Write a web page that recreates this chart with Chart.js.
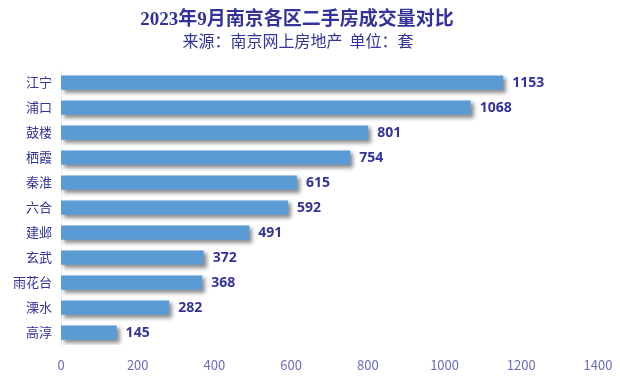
<!DOCTYPE html>
<html>
<head>
<meta charset="utf-8">
<script src="https://cdn.jsdelivr.net/npm/chart.js@4"></script>
<style>
    html, body { margin: 0; padding: 0; background: #ffffff; }
    #wrap { width: 620px; height: 391px; position: relative; }
</style>
</head>
<body>
<div id="wrap"><canvas id="districtChart" width="620" height="391"></canvas></div>
<script>
const districts = ["江宁", "浦口", "鼓楼", "栖霞", "秦淮", "六合", "建邺", "玄武", "雨花台", "溧水", "高淳"];
const deals = [1153, 1068, 801, 754, 615, 592, 491, 372, 368, 282, 145];
const xTicks = [0, 200, 400, 600, 800, 1000, 1200, 1400];

const TITLE_TEXT = "2023年9月南京各区二手房成交量对比";
const SUBTITLE_TEXT = "来源：南京网上房地产  单位：套";
const NAVY = "#333399";

// drop shadow under the bars
const barShadow = {
    id: "barShadow",
    beforeDatasetsDraw(chart) {
        const ctx = chart.ctx;
        ctx.save();
        ctx.shadowColor = "rgba(0,0,0,0.45)";
        ctx.shadowBlur = 4;
        ctx.shadowOffsetX = 3;
        ctx.shadowOffsetY = 3;
    },
    afterDatasetsDraw(chart) {
        chart.ctx.restore();
    }
};

// value labels at the bar ends + titles
const labelsAndTitle = {
    id: "labelsAndTitle",
    afterDraw(chart) {
        const ctx = chart.ctx;
        const meta = chart.getDatasetMeta(0);
        ctx.save();
        ctx.fillStyle = NAVY;
        ctx.font = "bold 14px 'Noto Sans', 'DejaVu Sans', sans-serif";
        ctx.textAlign = "left";
        ctx.textBaseline = "middle";
        meta.data.forEach((bar, i) => {
            ctx.fillText(String(deals[i]), bar.x + 9, bar.y + 1);
        });

        ctx.textAlign = "center";
        ctx.font = "bold 19px 'Liberation Serif', 'Noto Sans CJK SC', serif";
        ctx.fillText(TITLE_TEXT, 297, 20);
        ctx.font = "16px 'Noto Sans CJK SC', sans-serif";
        ctx.fillText(SUBTITLE_TEXT, 298, 41);
        ctx.restore();
    }
};

new Chart(document.getElementById("districtChart"), {
    type: "bar",
    data: {
        labels: districts,
        datasets: [{
            data: deals,
            backgroundColor: "#5b9bd5",
            borderWidth: 0,
            categoryPercentage: 1,
            barPercentage: 0.57
        }]
    },
    options: {
        indexAxis: "y",
        responsive: false,
        animation: false,
        devicePixelRatio: 1,
        layout: { padding: { top: 70, right: 22, bottom: 18, left: 0 } },
        plugins: {
            legend: { display: false },
            tooltip: { enabled: false },
            title: { display: false }
        },
        scales: {
            x: {
                min: 0,
                max: 1400,
                afterBuildTicks: scale => { scale.ticks = xTicks.map(v => ({ value: v })); },
                afterFit: scale => { scale.height = 28; },
                grid: { display: false },
                border: { display: false },
                ticks: {
                    color: "#6b6bbf",
                    font: { family: "'Noto Sans CJK SC', sans-serif", size: 13 },
                    padding: 4,
                    callback: value => String(value)
                }
            },
            y: {
                afterFit: scale => { scale.width = 61; },
                grid: { display: false, drawTicks: false },
                border: { display: true, color: "#eeeeee", width: 1 },
                ticks: {
                    color: NAVY,
                    font: { family: "'Noto Sans CJK SC', sans-serif", size: 13 },
                    padding: 9
                }
            }
        }
    },
    plugins: [barShadow, labelsAndTitle]
});
</script>
</body>
</html>
